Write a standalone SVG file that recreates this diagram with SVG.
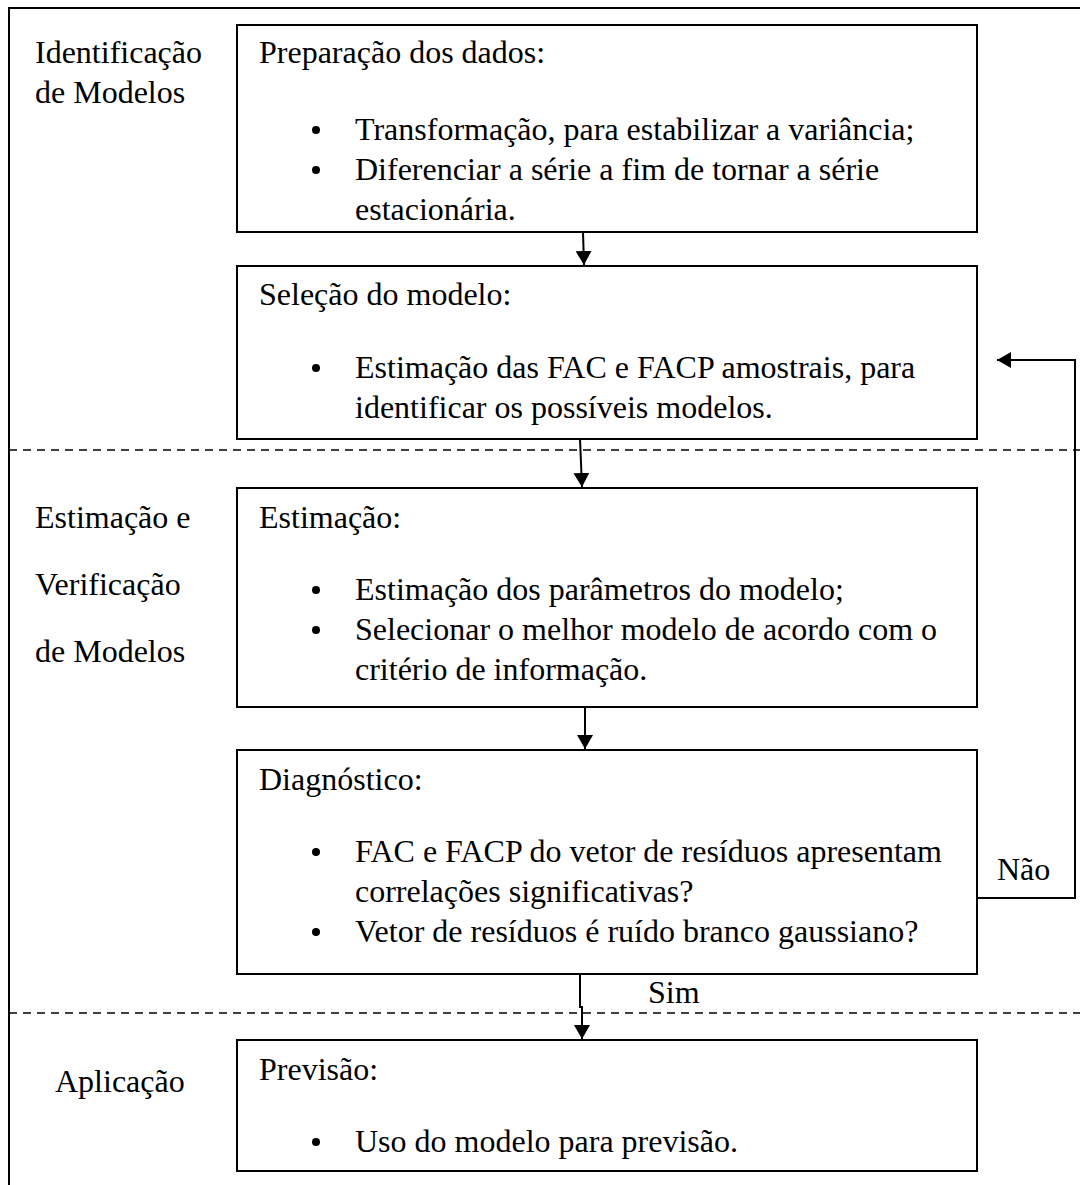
<svg xmlns="http://www.w3.org/2000/svg" width="1080" height="1185" viewBox="0 0 1080 1185">
<style>
text{font-family:"Liberation Serif","Times New Roman",serif;font-size:32px;fill:#000}
.box{fill:#fff;stroke:#000;stroke-width:2}
.ln{fill:none;stroke:#000;stroke-width:2}
.dash{fill:none;stroke:#000;stroke-width:1.5;stroke-dasharray:8 6}
</style>
<defs>
<marker id="ah" markerWidth="14" markerHeight="16" viewBox="0 0 14 16" refX="14" refY="8" orient="auto" markerUnits="userSpaceOnUse">
<path d="M0,0 L14,8 L0,16 z" fill="#000"/>
</marker>
</defs>
<rect width="1080" height="1185" fill="#fff"/>
<g id="frame">
<path class="ln" d="M9,1185 V8 H1080"/>
<line class="dash" x1="9" y1="450" x2="1080" y2="450"/>
<line class="dash" x1="9" y1="1013" x2="1080" y2="1013"/>
</g>
<g id="labels">
<text x="35" y="63">Identificação</text>
<text x="35" y="103">de Modelos</text>
<text x="35" y="528">Estimação e</text>
<text x="35" y="595">Verificação</text>
<text x="35" y="662">de Modelos</text>
<text x="55" y="1092">Aplicação</text>
</g>
<g id="n1">
<rect class="box" x="237" y="25" width="740" height="207"/>
<text x="259" y="63">Preparação dos dados:</text>
<circle cx="316" cy="130" r="4"/>
<text x="355" y="140">Transformação, para estabilizar a variância;</text>
<circle cx="316" cy="170" r="4"/>
<text x="355" y="180">Diferenciar a série a fim de tornar a série</text>
<text x="355" y="220">estacionária.</text>
</g>
<g id="n2">
<rect class="box" x="237" y="266" width="740" height="173"/>
<text x="259" y="305">Seleção do modelo:</text>
<circle cx="316" cy="368" r="4"/>
<text x="355" y="378">Estimação das FAC e FACP amostrais, para</text>
<text x="355" y="418">identificar os possíveis modelos.</text>
</g>
<g id="n3">
<rect class="box" x="237" y="488" width="740" height="219"/>
<text x="259" y="528">Estimação:</text>
<circle cx="316" cy="590" r="4"/>
<text x="355" y="600">Estimação dos parâmetros do modelo;</text>
<circle cx="316" cy="630" r="4"/>
<text x="355" y="640">Selecionar o melhor modelo de acordo com o</text>
<text x="355" y="680">critério de informação.</text>
</g>
<g id="n4">
<rect class="box" x="237" y="750" width="740" height="224"/>
<text x="259" y="790">Diagnóstico:</text>
<circle cx="316" cy="852" r="4"/>
<text x="355" y="862">FAC e FACP do vetor de resíduos apresentam</text>
<text x="355" y="902">correlações significativas?</text>
<circle cx="316" cy="932" r="4"/>
<text x="355" y="942">Vetor de resíduos é ruído branco gaussiano?</text>
</g>
<g id="n5">
<rect class="box" x="237" y="1040" width="740" height="131"/>
<text x="259" y="1080">Previsão:</text>
<circle cx="316" cy="1142" r="4"/>
<text x="355" y="1152">Uso do modelo para previsão.</text>
</g>
<g id="connectors">
<line class="ln" x1="583" y1="232" x2="584" y2="265" marker-end="url(#ah)"/>
<line class="ln" x1="580" y1="439" x2="582" y2="487" marker-end="url(#ah)"/>
<line class="ln" x1="585" y1="707" x2="585" y2="749" marker-end="url(#ah)"/>
<path class="ln" d="M580,974 V1007 H582 V1039" marker-end="url(#ah)"/>
<path class="ln" d="M977,898 H1075 V360 H997" marker-end="url(#ah)"/>
<text x="997" y="880">Não</text>
<text x="648" y="1003">Sim</text>
</g>
</svg>
